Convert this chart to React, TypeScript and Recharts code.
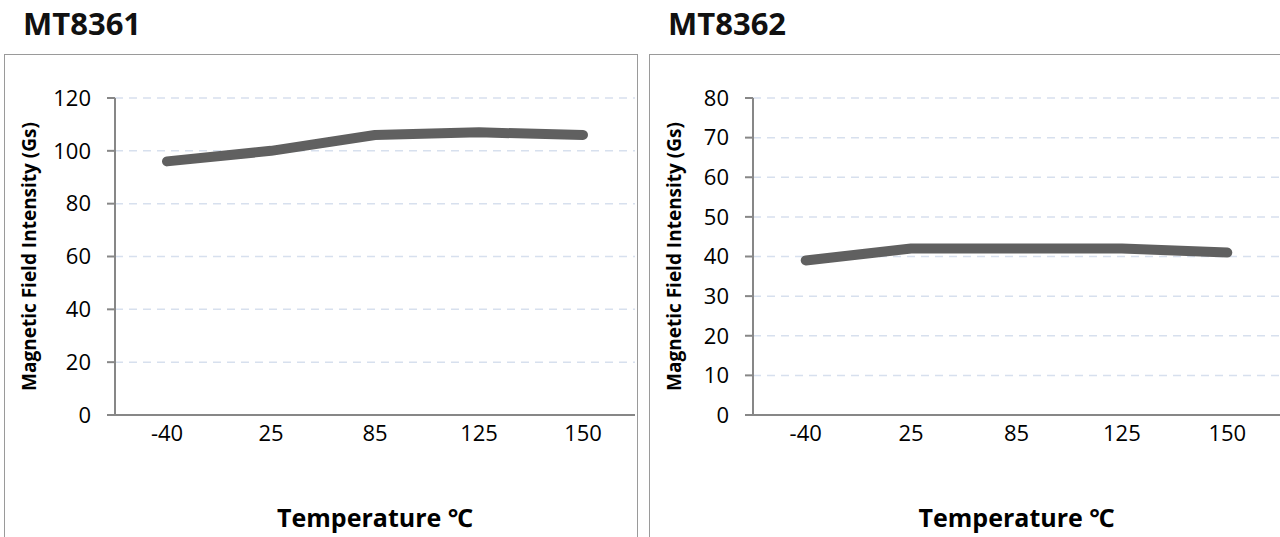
import React from "react";
import { LineChart, Line, XAxis, YAxis, CartesianGrid } from "recharts";

const temperatures = ["-40", "25", "85", "125", "150"];
const mt8361 = [96, 100, 106, 107, 106];
const mt8362 = [39, 42, 42, 42, 41];
const ticks8361 = [0, 20, 40, 60, 80, 100, 120];
const ticks8362 = [0, 10, 20, 30, 40, 50, 60, 70, 80];

const FONT = "'Open Sans', 'Noto Sans', sans-serif";
const AXIS = "#878787";
const CHART_W = 632;
const CHART_H = 482;
const TOP = 43;
const RIGHT = 2;
const X_AXIS_H = 122;

type PanelProps = {
  title: string;
  values: number[];
  ticks: number[];
  left: number;
  axisWidth: number;
};

function Panel({ title, values, ticks, left, axisWidth }: PanelProps) {
  const data = temperatures.map((t, i) => ({ t, v: values[i] }));
  const plotMid = TOP + (CHART_H - TOP - X_AXIS_H) / 2;
  const plotW = CHART_W - axisWidth - RIGHT;
  const pad = plotW / (temperatures.length * 2);

  const yLabel = () => (
    <text
      x={24}
      y={plotMid}
      transform={`rotate(-90 24 ${plotMid})`}
      textAnchor="middle"
      dominantBaseline="central"
      fontFamily={FONT}
      fontWeight={700}
      fontSize={19}
      fill="#000"
    >
      Magnetic Field Intensity (Gs)
    </text>
  );

  const xLabel = () => (
    <text
      x={axisWidth + plotW / 2}
      y={CHART_H - 20}
      textAnchor="middle"
      dominantBaseline="central"
      fontFamily={FONT}
      fontWeight={700}
      fontSize={25}
      fill="#000"
    >
      Temperature ℃
    </text>
  );

  return (
    <>
      <div
        style={{
          position: "absolute",
          left: left + 19,
          top: 3,
          fontFamily: FONT,
          fontWeight: 700,
          fontSize: 31,
          lineHeight: "40px",
          color: "#111",
        }}
      >
        {title}
      </div>
      <div
        style={{
          position: "absolute",
          left,
          top: 54,
          width: CHART_W + 2,
          height: 500,
          border: "1px solid #9a9a9a",
          boxSizing: "border-box",
          background: "#fff",
        }}
      >
        <LineChart
          width={CHART_W}
          height={CHART_H}
          data={data}
          margin={{ top: TOP, right: RIGHT, bottom: 0, left: 0 }}
        >
          <CartesianGrid
            vertical={false}
            stroke="#d7e0ee"
            strokeWidth={1.5}
            strokeDasharray="8 6"
          />
          <XAxis
            dataKey="t"
            height={X_AXIS_H}
            padding={{ left: pad, right: pad }}
            tickLine={false}
            tickSize={0}
            tickMargin={10}
            axisLine={{ stroke: AXIS, strokeWidth: 2 }}
            tick={{ fill: "#000", fontSize: 22, fontFamily: FONT }}
            interval={0}
            label={xLabel}
          />
          <YAxis
            width={axisWidth}
            domain={[0, ticks[ticks.length - 1]]}
            ticks={ticks}
            interval={0}
            tickSize={8}
            tickMargin={16}
            tickLine={{ stroke: AXIS, strokeWidth: 2 }}
            axisLine={{ stroke: AXIS, strokeWidth: 2 }}
            tick={{ fill: "#000", fontSize: 22, fontFamily: FONT }}
            label={yLabel}
          />
          <Line
            type="linear"
            dataKey="v"
            stroke="#606060"
            strokeWidth={10}
            strokeLinecap="round"
            strokeLinejoin="round"
            dot={false}
            activeDot={false}
            isAnimationActive={false}
          />
        </LineChart>
      </div>
    </>
  );
}

export default function App() {
  return (
    <div
      style={{
        position: "absolute",
        left: 0,
        top: 0,
        width: 1280,
        height: 537,
        overflow: "hidden",
        background: "#fff",
      }}
    >
      <Panel title="MT8361" values={mt8361} ticks={ticks8361} left={4} axisWidth={110} />
      <Panel title="MT8362" values={mt8362} ticks={ticks8362} left={649} axisWidth={103} />
    </div>
  );
}
